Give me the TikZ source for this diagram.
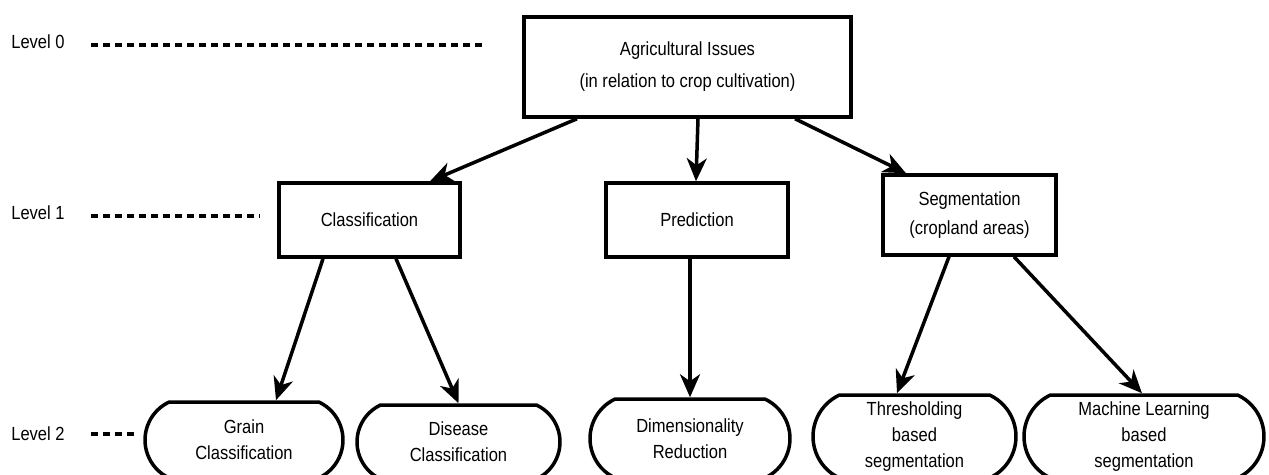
\documentclass[tikz,border=0pt]{standalone}
\usepackage{fontspec}
\setmainfont{Liberation Sans}[FakeStretch=0.87]
\usetikzlibrary{arrows.meta,shapes.misc}

\begin{document}
\begin{tikzpicture}[x=1pt,y=-1pt,
  txt/.style={font=\fontsize{19}{26}\selectfont, align=center, inner sep=0pt},
  box/.style={txt, draw, line width=3.5pt, rectangle, fill=white},
  leaf/.style={txt, draw, line width=3.5pt, rounded rectangle,
    rounded rectangle arc length=130, fill=white},
  levellabel/.style={txt, anchor=center},
  levelline/.style={line width=3.5pt, dash pattern=on 7pt off 5pt},
  link/.style={line width=3.5pt, -{Stealth[length=23pt,width=20pt,inset=7pt]}}
]
\path[use as bounding box, clip] (0,0) rectangle (1269,474);

% level markers
\node[levellabel] (lv0) at (38,42) {Level 0};
\node[levellabel] (lv1) at (38,213) {Level 1};
\node[levellabel] (lv2) at (38,434) {Level 2};
\coordinate (lv0a) at (91,45);  \coordinate (lv0b) at (484,45);
\coordinate (lv1a) at (91,216); \coordinate (lv1b) at (260,216);
\coordinate (lv2a) at (91,434); \coordinate (lv2b) at (135,434);
\draw[levelline] (lv0a) -- (lv0b);
\draw[levelline] (lv1a) -- (lv1b);
\draw[levelline] (lv2a) -- (lv2b);

% level 0
\node[box, minimum width=327pt, minimum height=100pt,
      font=\fontsize{19}{32}\selectfont] (root) at (687.5,67)
  {Agricultural Issues\\(in relation to crop cultivation)};

% level 1
\node[box, minimum width=181pt, minimum height=74pt] (cls) at (369.5,220) {Classification};
\node[box, minimum width=182pt, minimum height=74pt] (pred) at (697,220) {Prediction};
\node[box, minimum width=173pt, minimum height=80pt,
      font=\fontsize{19}{29}\selectfont] (seg) at (969.5,215)
  {Segmentation\\(cropland areas)};

% level 2
\node[leaf, minimum width=198pt, minimum height=76pt] (grain) at (244,440)
  {Grain\\Classification};
\node[leaf, minimum width=203pt, minimum height=74pt] (dis) at (458.5,442)
  {Disease\\Classification};
\node[leaf, minimum width=200pt, minimum height=79pt] (dim) at (690,438.5)
  {Dimensionality\\Reduction};
\node[leaf, minimum width=203pt, minimum height=83pt] (thr) at (914.5,436.5)
  {Thresholding\\based\\segmentation};
\node[leaf, minimum width=240pt, minimum height=83pt] (ml) at (1144,436.5)
  {Machine Learning\\based\\segmentation};

% connectors
\draw[link] ([xshift=-110.5pt]root.south) -- ([xshift=60.5pt]cls.north);
\draw[link] ([xshift=10.5pt]root.south) -- ([xshift=-1pt]pred.north);
\draw[link] ([xshift=107.5pt]root.south) -- ([xshift=-63.5pt]seg.north);
\draw[link] ([xshift=-46.5pt]cls.south) -- ([xshift=32pt]grain.north);
\draw[link] ([xshift=26.5pt]cls.south) -- (dis.north);
\draw[link] ([xshift=-7pt]pred.south) -- (dim.north);
\draw[link] ([xshift=-20.5pt]seg.south) -- ([xshift=-17.5pt]thr.north);
\draw[link] ([xshift=44.5pt]seg.south) -- ([xshift=-2pt]ml.north);
\end{tikzpicture}
\end{document}
